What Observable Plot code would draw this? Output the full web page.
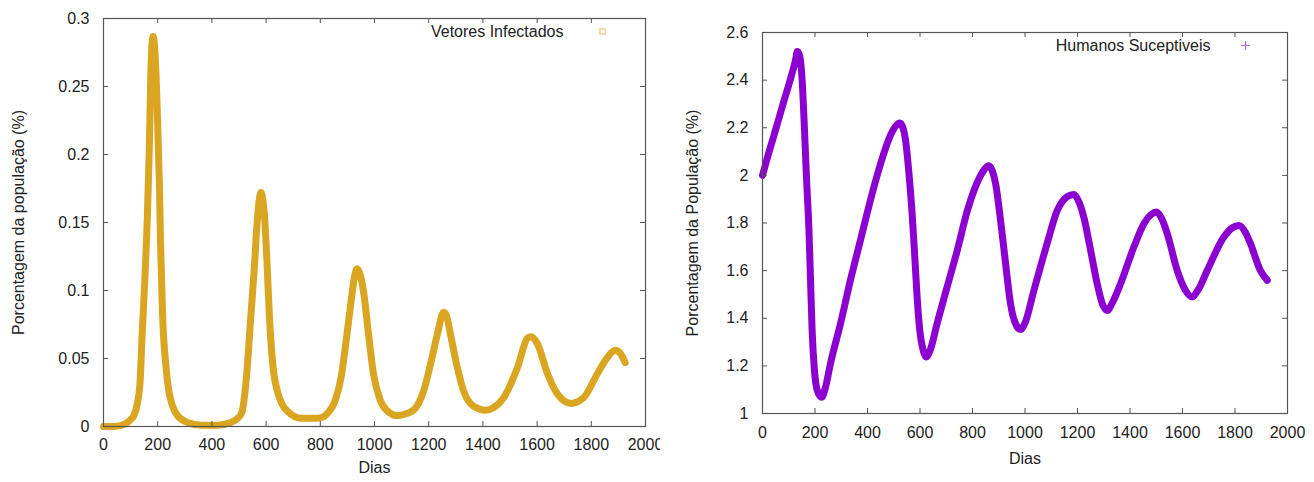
<!DOCTYPE html>
<html>
<head>
<meta charset="utf-8">
<script src="https://cdn.jsdelivr.net/npm/d3@7"></script>
<script src="https://cdn.jsdelivr.net/npm/@observablehq/plot@0.6"></script>
<style>
  body { margin: 0; background: #fff; }
  #wrap { position: relative; width: 1314px; height: 482px; overflow: hidden; }
  #left { position: absolute; left: 0; top: 0; }
  #right { position: absolute; left: 660px; top: 0; }
</style>
</head>
<body>
<div id="wrap"><div id="left"></div><div id="right"></div></div>
<script>
// ---- Data ----
const xTicks = [0, 200, 400, 600, 800, 1000, 1200, 1400, 1600, 1800, 2000];
const yTicksVetores = [0, 0.05, 0.1, 0.15, 0.2, 0.25, 0.3];
const yTicksHumanos = [1, 1.2, 1.4, 1.6, 1.8, 2, 2.2, 2.4, 2.6];

const vetoresDays = [0, 40, 80, 100, 112, 125, 135, 143, 152, 162, 169, 174, 178, 183, 189, 199, 206, 211, 218, 230, 242, 255, 273, 310, 360, 420, 470, 495, 510, 526, 544, 557, 567, 575, 581, 587, 594, 604, 612, 625, 643, 660, 680, 730, 780, 810, 828, 853, 878, 896, 915, 927, 935, 945, 959, 978, 996, 1022, 1050, 1084, 1110, 1144, 1181, 1207, 1232, 1255, 1265, 1280, 1306, 1329, 1365, 1410, 1440, 1476, 1527, 1565, 1578, 1601, 1638, 1675, 1725, 1771, 1823, 1860, 1889, 1910, 1925];
const vetoresValues = [0.000, 0.000, 0.002, 0.005, 0.008, 0.017, 0.033, 0.069, 0.106, 0.155, 0.204, 0.253, 0.278, 0.287, 0.278, 0.229, 0.180, 0.131, 0.082, 0.045, 0.025, 0.015, 0.008, 0.003, 0.001, 0.001, 0.003, 0.006, 0.010, 0.033, 0.082, 0.118, 0.150, 0.167, 0.172, 0.168, 0.155, 0.118, 0.082, 0.045, 0.025, 0.016, 0.011, 0.006, 0.006, 0.007, 0.010, 0.018, 0.0375, 0.064, 0.094, 0.111, 0.116, 0.113, 0.100, 0.068, 0.039, 0.019, 0.011, 0.008, 0.009, 0.012, 0.026, 0.046, 0.068, 0.084, 0.082, 0.068, 0.043, 0.026, 0.015, 0.012, 0.014, 0.021, 0.043, 0.065, 0.066, 0.061, 0.039, 0.024, 0.017, 0.021, 0.039, 0.051, 0.056, 0.053, 0.047];

const humanosDays = [0, 20, 43, 60, 81, 100, 113, 125, 133, 142, 151, 160, 168, 177, 183, 189, 198, 208, 225, 240, 259, 297, 335, 373, 411, 450, 488, 510, 523, 535, 545, 557, 570, 580, 589, 599, 612, 623, 640, 665, 703, 742, 780, 818, 845, 862, 875, 888, 907, 926, 945, 964, 983, 1000, 1034, 1084, 1123, 1160, 1186, 1205, 1224, 1250, 1275, 1295, 1313, 1335, 1364, 1415, 1453, 1480, 1501, 1520, 1542, 1580, 1610, 1637, 1660, 1694, 1757, 1790, 1815, 1840, 1859, 1897, 1923];
const humanosValues = [2.00, 2.08, 2.165, 2.23, 2.31, 2.38, 2.43, 2.48, 2.52, 2.50, 2.40, 2.19, 1.98, 1.77, 1.56, 1.35, 1.18, 1.10, 1.068, 1.11, 1.21, 1.377, 1.56, 1.727, 1.895, 2.05, 2.17, 2.21, 2.22, 2.20, 2.147, 2.02, 1.84, 1.66, 1.49, 1.35, 1.265, 1.237, 1.27, 1.377, 1.53, 1.685, 1.85, 1.97, 2.025, 2.04, 2.02, 1.965, 1.81, 1.63, 1.46, 1.377, 1.353, 1.38, 1.517, 1.713, 1.853, 1.91, 1.92, 1.89, 1.825, 1.685, 1.545, 1.46, 1.433, 1.47, 1.545, 1.70, 1.797, 1.835, 1.846, 1.82, 1.755, 1.60, 1.52, 1.489, 1.52, 1.60, 1.74, 1.78, 1.79, 1.76, 1.713, 1.60, 1.559];

const vetoresRows = vetoresDays.map((d, i) => ({day: d, value: vetoresValues[i]}));
const humanosRows = humanosDays.map((d, i) => ({day: d, value: humanosValues[i]}));

const FONT = "'Liberation Sans', Arial, Helvetica, sans-serif";
const AXIS = "#555";
const fmt = d => String(d);

function panel(o) {
  const H = 482;
  const fw = o.width - o.ml - o.mr;
  const fh = H - o.mt - o.mb;
  const tl = 5;
  return Plot.plot({
    width: o.width,
    height: H,
    marginTop: o.mt, marginBottom: o.mb, marginLeft: o.ml, marginRight: o.mr,
    style: {fontFamily: FONT, fontSize: "16px", color: "#222", background: "#fff", overflow: "visible"},
    x: {domain: [0, 2000], ticks: xTicks},
    y: {domain: o.yDomain, ticks: o.yTicks},
    marks: [
      Plot.line(o.rows, {x: "day", y: "value", stroke: o.color, strokeWidth: 7, curve: "monotone-x", strokeLinejoin: "round"}),
      Plot.frame({stroke: AXIS, strokeWidth: 1.2}),
      Plot.ruleX(xTicks, {x: d => d, insetTop: fh - tl, stroke: AXIS}),
      Plot.ruleX(xTicks, {x: d => d, insetBottom: fh - tl, stroke: AXIS}),
      Plot.ruleY(o.yTicks, {y: d => d, insetRight: fw - tl, stroke: AXIS}),
      Plot.ruleY(o.yTicks, {y: d => d, insetLeft: fw - tl, stroke: AXIS}),
      Plot.axisX({ticks: xTicks, tickFormat: fmt, tickSize: 0, tickPadding: o.xPad, label: null, fontSize: 16}),
      Plot.axisY({ticks: o.yTicks, tickFormat: fmt, tickSize: 0, tickPadding: 14, label: null, fontSize: 16}),
      Plot.text(["Dias"], {text: d => d, frameAnchor: "bottom", textAnchor: "middle", lineAnchor: "middle", dy: o.xLabelDy, fontSize: 16, fill: "#222"}),
      Plot.text([o.yLabel], {text: d => d, frameAnchor: "left", textAnchor: "middle", lineAnchor: "middle", rotate: -90, dx: o.yLabelDx, fontSize: 16, fill: "#222"}),
      Plot.text([o.legend], {text: d => d, frameAnchor: "top-right", textAnchor: "end", lineAnchor: "middle", dx: o.legendDx, dy: 13, fontSize: 16, fill: "#222"}),
      Plot.dot([o.legend], {frameAnchor: "top-right", dx: o.symbolDx, dy: 13, symbol: o.symbol, r: 3, stroke: o.color, strokeOpacity: 0.6, fill: "none", strokeWidth: 1.2})
    ]
  });
}

document.getElementById("left").append(panel({
  width: 660, mt: 18, mb: 56, ml: 103, mr: 15,
  rows: vetoresRows, color: "#DAA520", symbol: "square",
  yDomain: [0, 0.3], yTicks: yTicksVetores,
  yLabel: "Porcentagem da população (%)", yLabelDx: -85,
  legend: "Vetores Infectados", legendDx: -82, symbolDx: -43,
  xPad: 12, xLabelDy: 41
}));

document.getElementById("right").append(panel({
  width: 654, mt: 32, mb: 69, ml: 102, mr: 27,
  rows: humanosRows, color: "#8B00D0", symbol: "plus",
  yDomain: [1, 2.6], yTicks: yTicksHumanos,
  yLabel: "Porcentagem da População (%)", yLabelDx: -70,
  legend: "Humanos Suceptiveis", legendDx: -77, symbolDx: -42,
  xPad: 13, xLabelDy: 45
}));
</script>
</body>
</html>
